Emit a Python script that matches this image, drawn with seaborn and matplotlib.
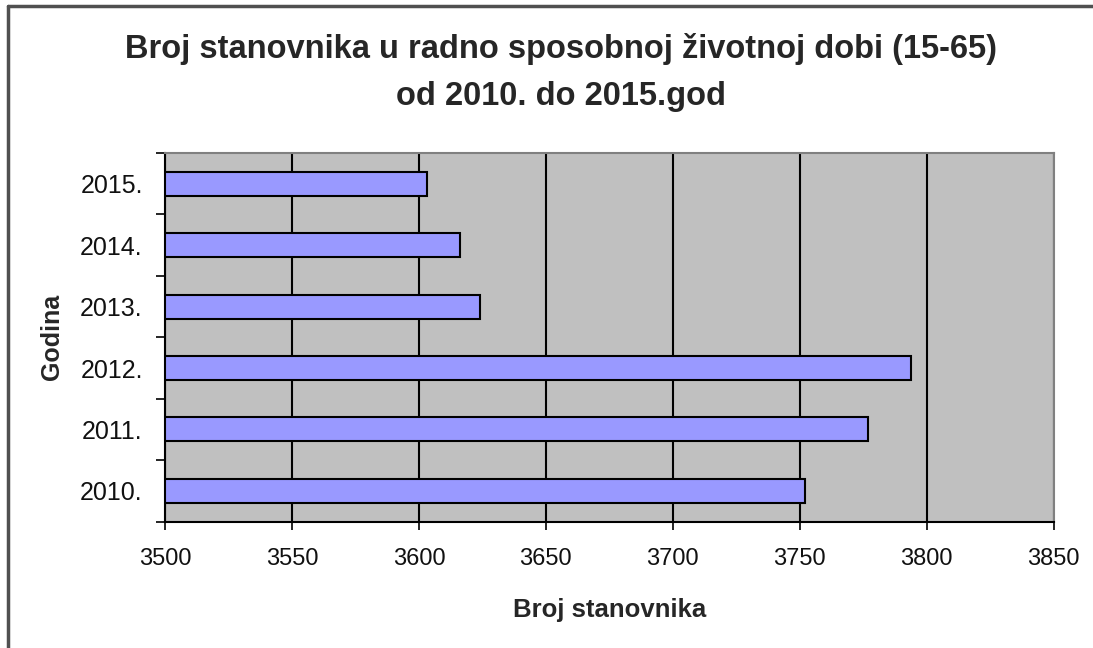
import numpy as np
import pandas as pd
import matplotlib
matplotlib.use("Agg")
import matplotlib.pyplot as plt
import seaborn as sns
from matplotlib.ticker import MultipleLocator, FixedLocator
from matplotlib.lines import Line2D

# data
years = ["2015.", "2014.", "2013.", "2012.", "2011.", "2010."]
population = [3603, 3616, 3624, 3794, 3777, 3752]

sns.set_style("white")
plt.rcParams['font.family'] = ['Liberation Sans', 'DejaVu Sans']

df = pd.DataFrame({"godina": years, "stanovnika": population})

fig = plt.figure(figsize=(10.93, 6.48), dpi=100)
ax = fig.add_axes([0.151, 0.195, 0.813, 0.569])

sns.barplot(data=df, x="stanovnika", y="godina", order=years, orient="h",
            color="#9999FF", saturation=1, edgecolor="black", linewidth=1.5,
            width=0.39, ax=ax)

ax.set_facecolor("#C0C0C0")
ax.set_xlim(3500, 3850)
ax.set_ylim(5.5, -0.5)
ax.xaxis.set_major_locator(MultipleLocator(50))
ax.grid(axis="x", color="black", linewidth=1.5)
ax.grid(axis="y", visible=False)
ax.set_axisbelow(True)

# y ticks sit between categories, labels in the middle
ax.yaxis.set_minor_locator(FixedLocator(np.arange(-0.5, 6, 1)))
ax.tick_params(axis="y", which="major", left=True, length=0, pad=16, labelsize=18)
ax.tick_params(axis="y", which="minor", left=True, length=6.5, width=1.2,
               color="black", direction="out")
ax.tick_params(axis="x", which="major", bottom=True, length=6, width=1.2,
               color="black", direction="out", pad=13, labelsize=17)
for lab in ax.get_xticklabels() + ax.get_yticklabels():
    lab.set_color("#111111")

for side in ["left", "bottom"]:
    ax.spines[side].set_color("black")
    ax.spines[side].set_linewidth(1.5)
for side in ["top", "right"]:
    ax.spines[side].set_color("#808080")
    ax.spines[side].set_linewidth(1.5)

ax.set_xlabel("Broj stanovnika", fontsize=18.5, fontweight="bold", labelpad=20)
ax.set_ylabel("Godina", fontsize=18, fontweight="bold", labelpad=12)

fig.text(0.513, 0.925, "Broj stanovnika u radno sposobnoj životnoj dobi (15-65)",
         ha="center", va="center", fontsize=23.5, fontweight="bold")
fig.text(0.513, 0.851, "od 2010. do 2015.god",
         ha="center", va="center", fontsize=23.5, fontweight="bold")

# frame around the chart (only top and left edges visible in the crop)
fig.add_artist(Line2D([0.0075, 0.0075], [0.0, 0.99], transform=fig.transFigure,
                      color="#505050", linewidth=2.5))
fig.add_artist(Line2D([0.0075, 1.0], [0.99, 0.99], transform=fig.transFigure,
                      color="#505050", linewidth=2.5))

fig.savefig("out.png", dpi=100)
